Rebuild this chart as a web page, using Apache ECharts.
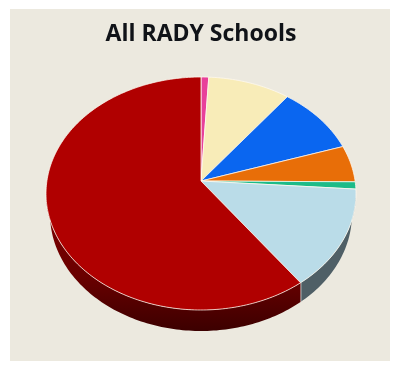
<!DOCTYPE html>
<html>
<head>
<meta charset="utf-8">
<style>html,body{margin:0;padding:0;background:#fff}#chart{width:394px;height:367px}</style>
<script src="https://cdn.jsdelivr.net/npm/echarts@6/dist/echarts.min.js"></script>
</head>
<body>
<div id="chart"></div>
<script>
// Share of each slice, clockwise from twelve o'clock
const sliceValues = [0.8, 8.6, 9.0, 5.0, 1.0, 14.5, 61.1];
const topColors = ['#E8409A', '#F8ECB8', '#0A66F0', '#E86E08', '#1DBB88', '#BADCE8', '#B00000'];
const sideColors = ['#7a1f50', '#8f8660', '#063a88', '#7a3a04', '#0d6a4c', '#4F5F66', '#4d0000'];
const chartTitle = 'All RADY Schools';

// Tilted-disc projection: elliptical rim with the hub sitting above the ellipse centre
const rim = { cx: 201, cy: 193.5, rx: 155, ry: 116.5 };
const base = { cx: 201, cy: 214, rx: 151, ry: 117 };
const hub = [201, 181];

const total = sliceValues.reduce((a, b) => a + b, 0);
const startShare = [];
sliceValues.reduce((acc, v, i) => { startShare[i] = acc; return acc + v; }, 0);

function onRim(t) {
  return [rim.cx + rim.rx * Math.sin(t), rim.cy - rim.ry * Math.cos(t)];
}
// The lower edge of the wall sits straight below the rim, on the base ellipse
function onBase(t) {
  const dx = Math.max(-base.rx, Math.min(base.rx, rim.rx * Math.sin(t)));
  return [base.cx + dx, base.cy + base.ry * Math.sqrt(1 - (dx / base.rx) * (dx / base.rx))];
}
function sample(fn, t0, t1) {
  const n = Math.max(2, Math.ceil(Math.abs(t1 - t0) / 0.02));
  const pts = [];
  for (let i = 0; i <= n; i++) pts.push(fn(t0 + (t1 - t0) * i / n));
  return pts;
}
function angles(params, api) {
  const start = startShare[params.dataIndex];
  return [start / total * 2 * Math.PI, (start + api.value(0)) / total * 2 * Math.PI];
}

// Outer wall: only the front half of the disc can show
function renderSide(params, api) {
  const [a0, a1] = angles(params, api);
  const t0 = Math.max(a0, Math.PI / 2), t1 = Math.min(a1, Math.PI * 1.5);
  if (t1 <= t0) return { type: 'group', children: [] };
  const isRed = params.dataIndex === sliceValues.length - 1;
  const children = [{
    type: 'polygon',
    shape: { points: sample(onBase, t0, t1).concat(sample(onRim, t1, t0)) },
    style: {
      fill: isRed ? new echarts.graphic.LinearGradient(0, 0, 0, 1, [
        { offset: 0, color: '#800000' },
        { offset: 0.6, color: '#6a0000' },
        { offset: 1, color: '#3c0000' }
      ]) : sideColors[params.dataIndex]
    }
  }];
  // Pale seam where two walls meet
  if (a1 < Math.PI * 1.5 && a1 > Math.PI / 2) {
    const p = onRim(a1), q = onBase(a1);
    children.push({
      type: 'line',
      shape: { x1: p[0], y1: p[1], x2: q[0], y2: q[1] },
      style: { stroke: '#e8ebe8', lineWidth: 1.5 }
    });
  }
  return { type: 'group', children: children };
}

// Upper face of a slice
function renderTop(params, api) {
  const [a0, a1] = angles(params, api);
  return {
    type: 'polygon',
    shape: { points: [hub].concat(sample(onRim, a0, a1)) },
    style: { fill: topColors[params.dataIndex], stroke: 'rgba(255,250,240,0.75)', lineWidth: 1, lineJoin: 'round' }
  };
}

const seriesData = sliceValues.map(v => [v]);
const chart = echarts.init(document.getElementById('chart'), null, { renderer: 'canvas' });
chart.setOption({
  animation: false,
  backgroundColor: '#ffffff',
  title: {
    text: chartTitle,
    left: 196,
    top: 18,
    textAlign: 'center',
    textStyle: { fontFamily: 'Open Sans', fontWeight: 'bold', fontSize: 23, color: '#101318' }
  },
  graphic: [{
    type: 'rect', z: -1,
    shape: { x: 10, y: 9, width: 380, height: 352 },
    style: { fill: '#ECE9DF' }
  }],
  series: [
    { type: 'custom', coordinateSystem: 'none', renderItem: renderSide, data: seriesData, z: 2 },
    { type: 'custom', coordinateSystem: 'none', renderItem: renderTop, data: seriesData, z: 3 }
  ]
});
</script>
</body>
</html>
